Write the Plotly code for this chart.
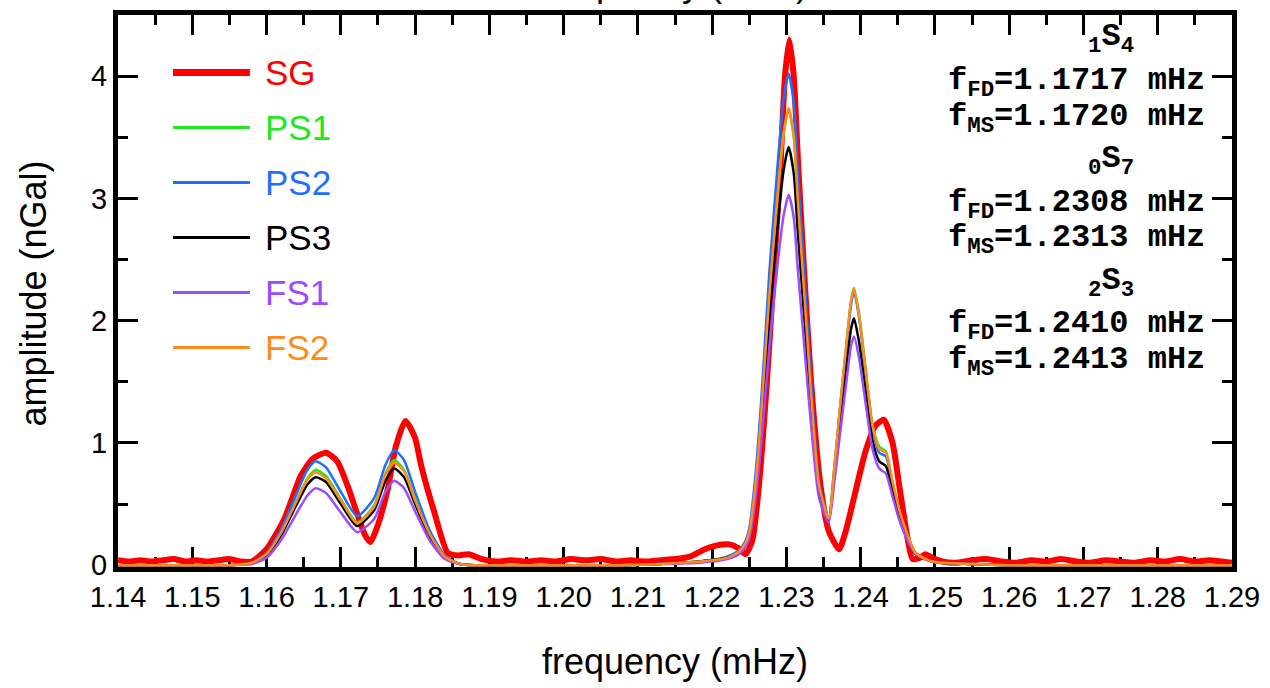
import plotly.graph_objects as go

# ---------------- data ----------------
x_ticks = [1.14, 1.15, 1.16, 1.17, 1.18, 1.19, 1.20, 1.21, 1.22, 1.23, 1.24, 1.25, 1.26, 1.27, 1.28, 1.29]
x_tick_labels = ["1.14", "1.15", "1.16", "1.17", "1.18", "1.19", "1.20", "1.21", "1.22", "1.23",
                 "1.24", "1.25", "1.26", "1.27", "1.28", "1.29"]
y_ticks = [0, 1, 2, 3, 4]
y_tick_labels = ["0", "1", "2", "3", "4"]

# SG (superconducting gravimeter) spectrum
sg_freq = [1.140, 1.1415, 1.143, 1.1445, 1.146, 1.1475, 1.149, 1.1505, 1.152, 1.1535, 1.155, 1.1565,
           1.158, 1.160, 1.1624, 1.1646, 1.1662, 1.1680, 1.1695, 1.1709, 1.1722, 1.1733, 1.1740,
           1.1750, 1.1763, 1.1774, 1.1787, 1.1800, 1.1808, 1.1826, 1.1844, 1.1858, 1.1872, 1.1890,
           1.1910, 1.1930, 1.1950, 1.1970, 1.1990, 1.2010, 1.2030, 1.2050, 1.2070, 1.2090, 1.2110,
           1.2130, 1.2150, 1.2170, 1.2190, 1.2205, 1.2223, 1.2235, 1.2245, 1.2254, 1.2263, 1.2274,
           1.2283, 1.2292, 1.2298, 1.2304, 1.2310, 1.2316, 1.2324, 1.2333, 1.2346, 1.2357, 1.2371,
           1.2380, 1.2389, 1.2407, 1.2420, 1.2431, 1.2443, 1.2452, 1.2461, 1.2470, 1.2480, 1.2487,
           1.2496, 1.2510, 1.2530, 1.2550, 1.2570, 1.2590, 1.2610, 1.2630, 1.2650, 1.2670, 1.2690,
           1.2710, 1.2730, 1.2750, 1.2770, 1.2790, 1.2810, 1.2830, 1.2850, 1.2870, 1.2900]
sg_amp = [0.04, 0.03, 0.04, 0.03, 0.04, 0.05, 0.03, 0.04, 0.03, 0.04, 0.05, 0.03,
          0.03, 0.13, 0.38, 0.73, 0.87, 0.92, 0.85, 0.65, 0.42, 0.24, 0.19,
          0.33, 0.62, 0.97, 1.18, 1.04, 0.82, 0.43, 0.10, 0.08, 0.09, 0.05,
          0.03, 0.04, 0.03, 0.04, 0.03, 0.05, 0.04, 0.05, 0.03, 0.04, 0.03,
          0.04, 0.05, 0.07, 0.13, 0.16, 0.17, 0.14, 0.09, 0.20, 0.65, 1.52,
          2.39, 3.26, 3.99, 4.30, 3.99, 3.26, 2.39, 1.52, 0.65, 0.28, 0.13,
          0.28, 0.50, 0.94, 1.14, 1.19, 1.00, 0.65, 0.30, 0.05, 0.06, 0.09,
          0.06, 0.03, 0.02, 0.04, 0.05, 0.03, 0.02, 0.04, 0.03, 0.05, 0.03,
          0.02, 0.04, 0.03, 0.02, 0.04, 0.03, 0.05, 0.03, 0.04, 0.02]

# common frequency grid of the model spectra
model_freq = [1.140, 1.150, 1.155, 1.158, 1.160, 1.162, 1.164, 1.1655, 1.1666, 1.168, 1.170, 1.1722,
              1.1745, 1.176, 1.1772, 1.1785, 1.180, 1.182, 1.184, 1.186, 1.188, 1.200, 1.208, 1.213,
              1.2183, 1.222, 1.2236, 1.2245, 1.2250, 1.2257, 1.2263, 1.2268, 1.2277, 1.2288, 1.2296,
              1.2303, 1.2310, 1.2315, 1.2324, 1.2333, 1.2344, 1.2357, 1.2364, 1.2371, 1.2380, 1.2387,
              1.2391, 1.2398, 1.2407, 1.2416, 1.2425, 1.2434, 1.2443, 1.2452, 1.2461, 1.2474, 1.2496,
              1.255, 1.260, 1.270, 1.290]

ps2_amp = [0, 0, 0, 0.02, 0.10, 0.30, 0.58, 0.78, 0.85, 0.80, 0.60, 0.40,
           0.55, 0.82, 0.94, 0.86, 0.60, 0.28, 0.08, 0.01, 0, 0, 0, 0.01,
           0.03, 0.07, 0.12, 0.20, 0.30, 0.65, 1.08, 1.52, 2.39, 3.26, 3.80,
           4.02, 3.78, 3.26, 2.39, 1.52, 0.68, 0.38, 0.75, 1.20, 1.74, 2.13,
           2.24, 2.02, 1.57, 1.12, 0.92, 0.89, 0.65, 0.43, 0.27, 0.10, 0.03,
           0.01, 0, 0, 0]
ps1_amp = [0, 0, 0, 0.02, 0.09, 0.27, 0.53, 0.71, 0.78, 0.73, 0.54, 0.35,
           0.49, 0.75, 0.86, 0.78, 0.54, 0.25, 0.07, 0.01, 0, 0, 0, 0.01,
           0.03, 0.06, 0.11, 0.18, 0.27, 0.58, 0.98, 1.40, 2.20, 3.02, 3.52,
           3.73, 3.50, 3.02, 2.22, 1.42, 0.65, 0.38, 0.76, 1.21, 1.76, 2.16,
           2.27, 2.05, 1.59, 1.15, 0.97, 0.93, 0.68, 0.45, 0.28, 0.10, 0.03,
           0.01, 0, 0, 0]
fs2_amp = [0, 0, 0, 0.02, 0.09, 0.27, 0.52, 0.70, 0.76, 0.71, 0.53, 0.34,
           0.48, 0.74, 0.84, 0.77, 0.53, 0.25, 0.07, 0.01, 0, 0, 0, 0.01,
           0.03, 0.06, 0.11, 0.18, 0.27, 0.58, 0.98, 1.40, 2.20, 3.02, 3.52,
           3.74, 3.51, 3.02, 2.22, 1.42, 0.65, 0.38, 0.76, 1.21, 1.76, 2.16,
           2.26, 2.04, 1.58, 1.14, 0.95, 0.92, 0.68, 0.45, 0.28, 0.10, 0.03,
           0.01, 0, 0, 0]
ps3_amp = [0, 0, 0, 0.02, 0.08, 0.25, 0.49, 0.66, 0.72, 0.68, 0.50, 0.32,
           0.45, 0.69, 0.79, 0.72, 0.50, 0.23, 0.06, 0.01, 0, 0, 0, 0.01,
           0.03, 0.06, 0.10, 0.17, 0.25, 0.53, 0.90, 1.28, 2.01, 2.76, 3.22,
           3.42, 3.20, 2.76, 2.03, 1.30, 0.60, 0.37, 0.70, 1.09, 1.58, 1.93,
           2.02, 1.82, 1.41, 1.02, 0.85, 0.81, 0.60, 0.40, 0.25, 0.09, 0.03,
           0.01, 0, 0, 0]
fs1_amp = [0, 0, 0, 0.01, 0.06, 0.21, 0.42, 0.57, 0.63, 0.59, 0.43, 0.27,
           0.38, 0.60, 0.69, 0.63, 0.44, 0.20, 0.05, 0.01, 0, 0, 0, 0.01,
           0.02, 0.05, 0.09, 0.15, 0.22, 0.47, 0.80, 1.13, 1.78, 2.45, 2.85,
           3.03, 2.84, 2.45, 1.80, 1.16, 0.55, 0.35, 0.65, 1.01, 1.46, 1.79,
           1.87, 1.69, 1.31, 0.95, 0.79, 0.75, 0.56, 0.37, 0.23, 0.09, 0.03,
           0.01, 0, 0, 0]

series_names = ["SG", "PS1", "PS2", "PS3", "FS1", "FS2"]
series_colors = ["#ff0000", "#22e61e", "#1f6fff", "#000000", "#9a4dff", "#ff8c1a"]

mode_labels = ["<sub>1</sub>S<sub>4</sub>", "<sub>0</sub>S<sub>7</sub>", "<sub>2</sub>S<sub>3</sub>"]
mode_fd = ["1.1717", "1.2308", "1.2410"]
mode_ms = ["1.1720", "1.2313", "1.2413"]

# ---------------- figure ----------------
L, R, T, B = 118, 1233, 10, 567
PW, PH = R - L, B - T


def px(xp):
    return (xp - L) / PW


def py(yp):
    return (B - yp) / PH


fig = go.Figure()
fig.add_trace(go.Scatter(x=sg_freq, y=sg_amp, mode="lines", name="SG",
                         line=dict(color=series_colors[0], width=6, shape="spline", smoothing=0.6)))
for name, col, amp in zip(series_names[1:], series_colors[1:],
                          [ps1_amp, ps2_amp, ps3_amp, fs1_amp, fs2_amp]):
    fig.add_trace(go.Scatter(x=model_freq, y=amp, mode="lines", name=name,
                             line=dict(color=col, width=2.5, shape="spline", smoothing=0.6)))

axis_common = dict(showline=True, linewidth=5, linecolor="black", mirror="allticks",
                   ticks="inside", ticklen=20, tickwidth=2.5, tickcolor="black",
                   showgrid=False, zeroline=False, layer="below traces",
                   tickfont=dict(family="Liberation Sans, Arial, sans-serif", size=29, color="black"))

fig.update_xaxes(range=[1.13999, 1.29001], tickmode="array", tickvals=x_ticks, ticktext=x_tick_labels,
                 minor=dict(tickmode="linear", tick0=1.145, dtick=0.01, ticks="inside", ticklen=10,
                            tickwidth=2.5, tickcolor="black"),
                 **axis_common)
fig.update_yaxes(range=[-0.015, 4.5], tickmode="array", tickvals=y_ticks, ticktext=y_tick_labels,
                 minor=dict(tickmode="linear", tick0=0.5, dtick=1, ticks="inside", ticklen=10,
                            tickwidth=2.5, tickcolor="black"),
                 **axis_common)

ann = []
# axis titles
ann.append(dict(text="frequency (mHz)", x=0.5, y=py(662), xref="paper", yref="paper",
                xanchor="center", yanchor="middle", showarrow=False,
                font=dict(family="Liberation Sans, Arial", size=36, color="black")))
# top title, mostly outside the page (as in the original figure)
ann.append(dict(text="frequency (mHz)", x=0.5, y=py(-22), xref="paper", yref="paper",
                xanchor="center", yanchor="middle", showarrow=False,
                font=dict(family="Liberation Sans, Arial", size=36, color="black")))
ann.append(dict(text="amplitude (nGal)", x=px(33), y=py(291), xref="paper", yref="paper",
                xanchor="center", yanchor="middle", showarrow=False, textangle=-90,
                font=dict(family="Liberation Sans, Arial", size=36, color="black")))

# legend (drawn manually)
shapes = []
leg_y = [68, 123.5, 179, 234.5, 290, 345.5]
for i, (name, col) in enumerate(zip(series_names, series_colors)):
    shapes.append(dict(type="line", xref="paper", yref="paper", x0=px(173), x1=px(250),
                       y0=py(leg_y[i]), y1=py(leg_y[i]),
                       line=dict(color=col, width=7 if i == 0 else 3)))
    ann.append(dict(text=name, x=px(263), y=py(leg_y[i]), xref="paper", yref="paper",
                    xanchor="left", yanchor="middle", showarrow=False,
                    font=dict(family="Liberation Sans, Arial", size=35, color=col)))

# mode labels
mono = dict(family="Courier New, Liberation Mono, monospace", size=32, color="black", weight="bold")
lab_y = [34, 157, 280]
fd_y = [78, 201, 323]
ms_y = [114, 237, 360]
for i in range(3):
    ann.append(dict(text=mode_labels[i], x=px(1112), y=py(lab_y[i]), xref="paper", yref="paper",
                    xanchor="center", yanchor="middle", showarrow=False, font=mono))
    ann.append(dict(text="f<sub>FD</sub>=" + mode_fd[i] + " mHz", x=px(1208), y=py(fd_y[i]),
                    xref="paper", yref="paper", xanchor="right", yanchor="middle",
                    showarrow=False, font=mono))
    ann.append(dict(text="f<sub>MS</sub>=" + mode_ms[i] + " mHz", x=px(1208), y=py(ms_y[i]),
                    xref="paper", yref="paper", xanchor="right", yanchor="middle",
                    showarrow=False, font=mono))

fig.update_layout(width=1270, height=688, margin=dict(l=L, r=1270 - R, t=T, b=688 - B),
                  plot_bgcolor="white", paper_bgcolor="white", showlegend=False,
                  annotations=ann, shapes=shapes,
                  font=dict(family="Liberation Sans, Arial, sans-serif", color="black"))

fig.write_html("out.html")
